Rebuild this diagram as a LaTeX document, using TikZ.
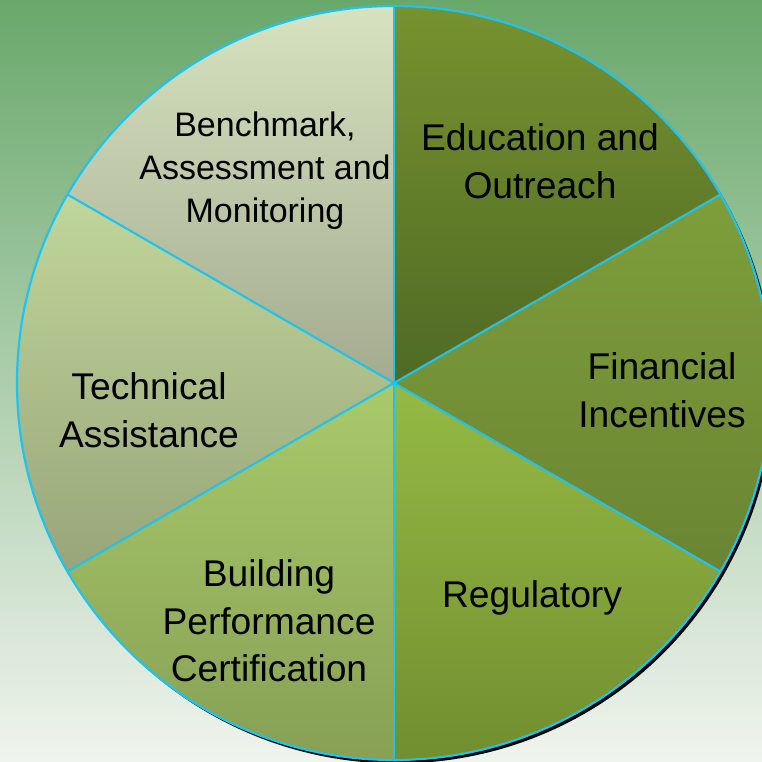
\documentclass[tikz,border=0pt]{standalone}
\usepackage{fontspec}
\setmainfont{Liberation Sans}
\begin{document}
\begin{tikzpicture}[x=1pt,y=1pt,
  lbl/.style={align=center,text=black,inner sep=0pt,font=\fontsize{37.2}{47.5}\selectfont},
  lblsmall/.style={align=center,text=black,inner sep=0pt,font=\fontsize{34}{43}\selectfont}]
\definecolor{bgtop}{HTML}{69A86B}
\definecolor{bgmid}{HTML}{A5C7A5}
\definecolor{bgbot}{HTML}{F0F4EE}
\definecolor{edgecol}{HTML}{1EC3F0}
\useasboundingbox (0,0) rectangle (762,762);
\clip (0,0) rectangle (762,762);
\shade[top color=bgtop, middle color=bgmid, bottom color=bgbot] (0,0) rectangle (762,762);
\coordinate (c) at (394,379);
\def\R{377}
% shadow
\fill[black] ([shift={(3,-3.5)}]c) circle (\R);
% sectors
\shade[top color={rgb,255:red,214;green,226;blue,192}, bottom color={rgb,255:red,164;green,171;blue,142}]
  (c) -- ++(90:\R) arc[start angle=90,end angle=150,radius=\R] -- cycle;
\shade[top color={rgb,255:red,192;green,214;blue,154}, bottom color={rgb,255:red,152;green,165;blue,122}]
  (c) -- ++(150:\R) arc[start angle=150,end angle=210,radius=\R] -- cycle;
\shade[top color={rgb,255:red,169;green,202;blue,106}, bottom color={rgb,255:red,135;green,160;blue,85}]
  (c) -- ++(210:\R) arc[start angle=210,end angle=270,radius=\R] -- cycle;
\shade[top color={rgb,255:red,149;green,186;blue,68}, bottom color={rgb,255:red,114;green,142;blue,48}]
  (c) -- ++(270:\R) arc[start angle=270,end angle=330,radius=\R] -- cycle;
\shade[top color={rgb,255:red,126;green,158;blue,59}, bottom color={rgb,255:red,106;green,133;blue,50}]
  (c) -- ++(-30:\R) arc[start angle=-30,end angle=30,radius=\R] -- cycle;
\shade[top color={rgb,255:red,119;green,146;blue,47}, bottom color={rgb,255:red,79;green,106;blue,36}]
  (c) -- ++(30:\R) arc[start angle=30,end angle=90,radius=\R] -- cycle;
% dividers
\foreach \a in {90,150,210,270,330,30}
  \draw[draw=edgecol,line width=2.1pt] (c) -- ++(\a:\R);
\draw[draw=edgecol,line width=2.2pt] (c) circle (\R);
% labels
\node[lbl] (edu) at (540,601) {Education and\\Outreach};
\node[lbl] (fin) at (662,372) {Financial\\Incentives};
\node[lbl] (reg) at (532,164) {Regulatory};
\node[lbl] (bld) at (269,141) {Building\\Performance\\Certification};
\node[lbl] (tech) at (149,352) {Technical\\Assistance};
\node[lblsmall] (bench) at (265,591) {Benchmark,\\Assessment and\\Monitoring};
\end{tikzpicture}
\end{document}
